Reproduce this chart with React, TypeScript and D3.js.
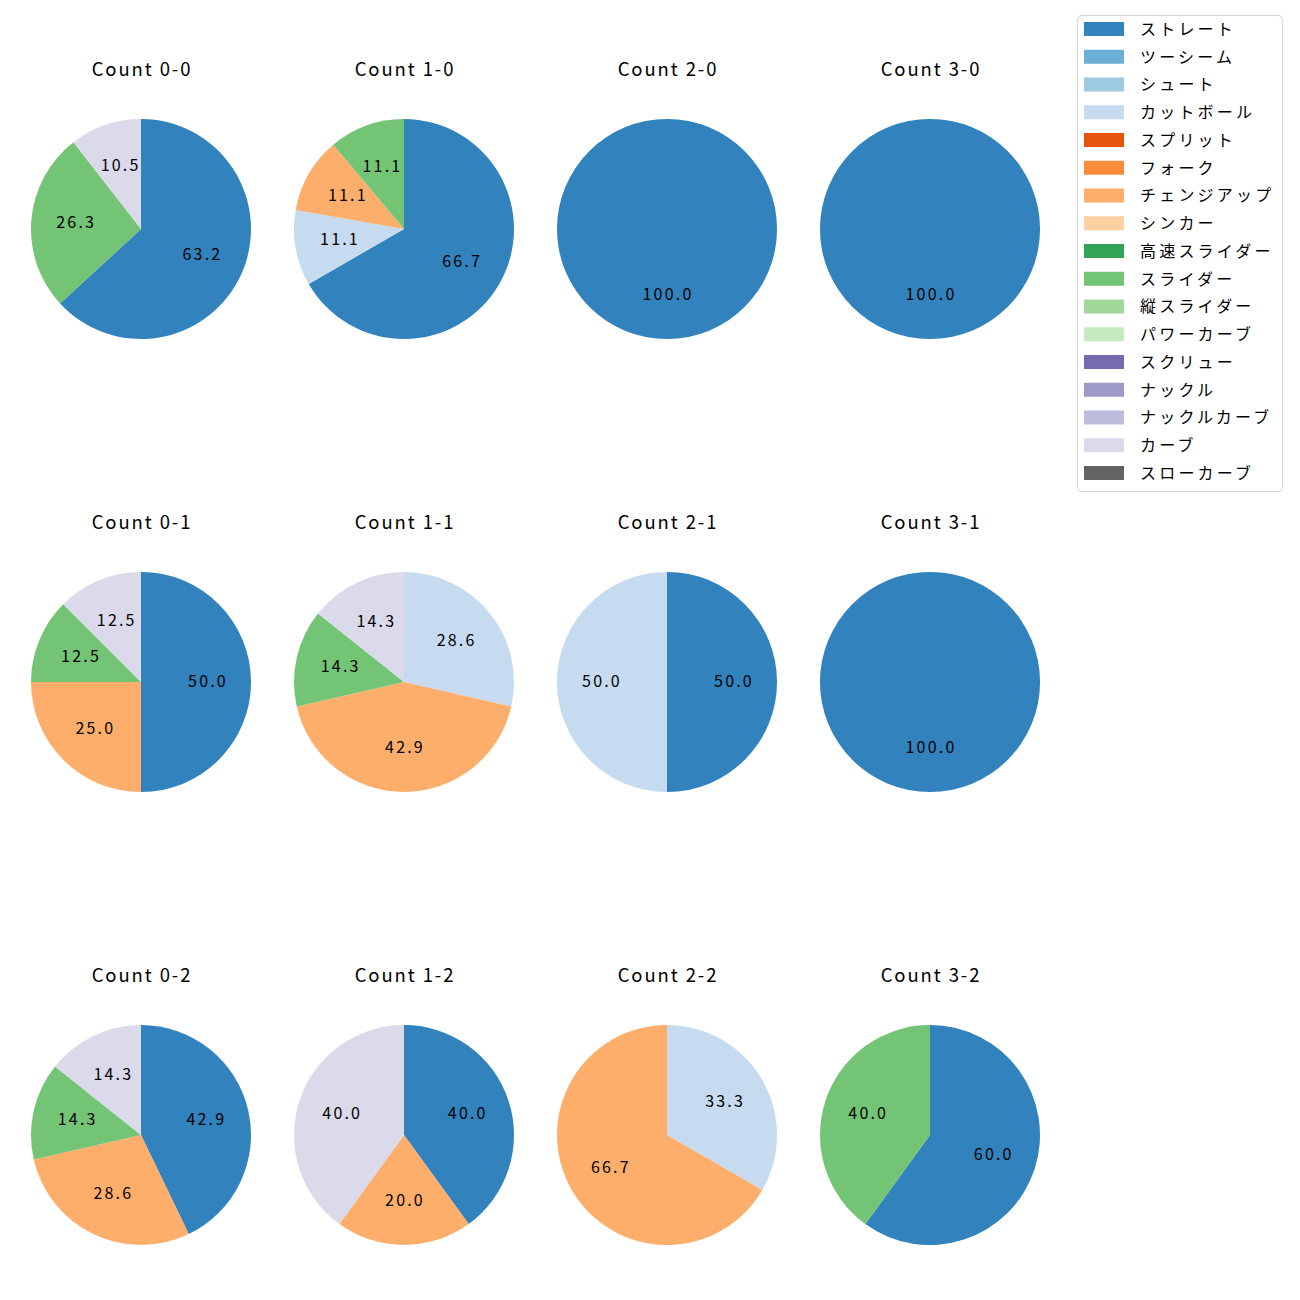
import React from 'react';
import * as d3 from 'd3';

const pitchTypes = [
  'ストレート', 'ツーシーム', 'シュート', 'カットボール', 'スプリット', 'フォーク',
  'チェンジアップ', 'シンカー', '高速スライダー', 'スライダー', '縦スライダー',
  'パワーカーブ', 'スクリュー', 'ナックル', 'ナックルカーブ', 'カーブ', 'スローカーブ',
];

const pitchColors = [
  '#3182bd', '#6baed6', '#9ecae1', '#c6dbef', '#e6550d', '#fd8d3c',
  '#fdae6b', '#fdd0a2', '#31a354', '#74c476', '#a1d99b', '#c7e9c0',
  '#756bb1', '#9e9ac8', '#bcbddc', '#dadaeb', '#636363',
];

// pitch counts per ball-strike count, in legend order
const counts = ['0-0', '1-0', '2-0', '3-0', '0-1', '1-1', '2-1', '3-1', '0-2', '1-2', '2-2', '3-2'];
const pitchCounts: Record<string, number>[] = [
  { 'ストレート': 12, 'スライダー': 5, 'カーブ': 2 },
  { 'ストレート': 6, 'カットボール': 1, 'チェンジアップ': 1, 'スライダー': 1 },
  { 'ストレート': 3 },
  { 'ストレート': 1 },
  { 'ストレート': 4, 'チェンジアップ': 2, 'スライダー': 1, 'カーブ': 1 },
  { 'カットボール': 2, 'チェンジアップ': 3, 'スライダー': 1, 'カーブ': 1 },
  { 'ストレート': 1, 'カットボール': 1 },
  { 'ストレート': 2 },
  { 'ストレート': 3, 'チェンジアップ': 2, 'スライダー': 1, 'カーブ': 1 },
  { 'ストレート': 2, 'チェンジアップ': 1, 'カーブ': 2 },
  { 'カットボール': 1, 'チェンジアップ': 2 },
  { 'ストレート': 3, 'スライダー': 2 },
];

const FONT = '"Noto Sans CJK JP", "Noto Sans", sans-serif';

const color = d3.scaleOrdinal<string, string>().domain(pitchTypes).range(pitchColors);
const colX = d3.scalePoint<number>().domain([0, 1, 2, 3]).range([141, 930]);
const rowY = d3.scalePoint<number>().domain([0, 1, 2]).range([229, 1135]);
const R = 110;

type Slice = { type: string; value: number };

const pie = d3.pie<Slice>()
  .value((d) => d.value)
  .sort(null)
  .startAngle(0)
  .endAngle(2 * Math.PI);

const arc = d3.arc<d3.PieArcDatum<Slice>>().innerRadius(0).outerRadius(R);

const PieCell: React.FC<{ idx: number }> = ({ idx }) => {
  const cx = colX(idx % 4)!;
  const cy = rowY(Math.floor(idx / 4))!;
  const rec = pitchCounts[idx];
  const slices: Slice[] = pitchTypes.filter((t) => rec[t]).map((t) => ({ type: t, value: rec[t] }));
  const total = d3.sum(slices, (d) => d.value);
  const arcs = pie(slices);
  return (
    <g>
      <text x={cx + 1} y={cy - 158} textAnchor="middle" dominantBaseline="middle"
        fontSize={18.5} letterSpacing={1.9} fontFamily={FONT} fill="#000">{`Count ${counts[idx]}`}</text>
      <g transform={`translate(${cx},${cy})`}>
        {arcs.map((a) => (
          <path key={a.data.type} d={arc(a) || ''} fill={color(a.data.type)} />
        ))}
        {arcs.map((a) => {
          const mid = (a.startAngle + a.endAngle) / 2;
          const x = Math.sin(mid) * R * 0.6;
          const y = -Math.cos(mid) * R * 0.6;
          return (
            <text key={a.data.type + 'l'} x={x + 1} y={y + 0.5} textAnchor="middle" dominantBaseline="middle"
              fontSize={16} letterSpacing={2.2} fontFamily={FONT} fill="#000">
              {((a.data.value / total) * 100).toFixed(1)}
            </text>
          );
        })}
      </g>
    </g>
  );
};

const Legend: React.FC = () => {
  const y = d3.scaleLinear().domain([0, pitchTypes.length - 1]).range([29, 473]);
  return (
    <g>
      <rect x={1077.5} y={15.5} width={205} height={476} rx={4} fill="#fff" stroke="#d6d6d6" />
      {pitchTypes.map((t, i) => (
        <g key={t}>
          <rect x={1084} y={y(i) - 7} width={40} height={14} fill={color(t)} />
          <text x={1140} y={y(i) + 1.5} dominantBaseline="middle" fontSize={16} letterSpacing={3.2}
            fontFamily={FONT} fill="#000">{t}</text>
        </g>
      ))}
    </g>
  );
};

const App: React.FC = () => (
  <svg width={1300} height={1300} style={{ position: 'absolute', left: 0, top: 0, background: '#fff' }}>
    {counts.map((c, i) => <PieCell key={c} idx={i} />)}
    <Legend />
  </svg>
);

export default App;
